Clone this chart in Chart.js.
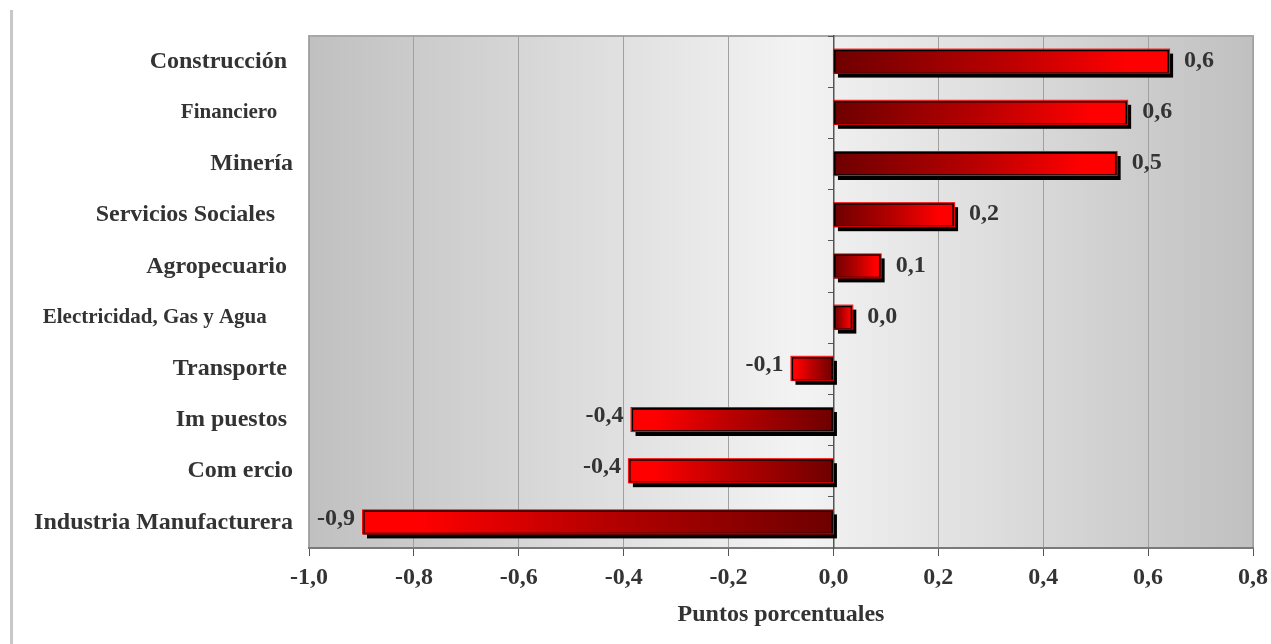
<!DOCTYPE html>
<html>
<head>
<meta charset="utf-8">
<script src="https://cdn.jsdelivr.net/npm/chart.js@4"></script>
<style>
  html, body { margin: 0; padding: 0; background: #ffffff; }
  #wrap { width: 1271px; height: 644px; position: relative; }
</style>
</head>
<body>
<div id="wrap"><canvas id="chart"></canvas></div>
<script>
// Sector labels (trailing spaces kept as in the original sheet)
const sectors = [
  "Construcción ",
  "Financiero   ",
  "Minería",
  "Servicios Sociales   ",
  "Agropecuario ",
  "Electricidad, Gas y Agua     ",
  "Transporte ",
  "Im puestos ",
  "Com ercio",
  "Industria Manufacturera",
];

// Contribution, in percentage points
const contributions = [0.64, 0.56, 0.54, 0.23, 0.09, 0.036, -0.08, -0.385, -0.39, -0.897];

const axisMin = -1.0;
const axisMax = 0.8;
const axisStep = 0.2;

const serif = "'Liberation Serif', 'Times New Roman', serif";
const textColor = "#333333";

function fmt(v) {
  if (Math.abs(v) < 1e-9) v = 0;
  return v.toFixed(1).replace(".", ",");
}

// Grey frame, plot background gradient and a line on the left edge
const backgroundPlugin = {
  id: "background",
  beforeDraw(chart) {
    const { ctx, chartArea: a } = chart;
    ctx.save();
    ctx.fillStyle = "#c8c8c8";
    ctx.fillRect(10, 10, 3, chart.height - 10);

    const g = ctx.createLinearGradient(a.left, 0, a.right, 0);
    g.addColorStop(0, "#c0c0c0");
    g.addColorStop(0.52, "#f3f3f3");
    g.addColorStop(1, "#c0c0c0");
    ctx.fillStyle = g;
    ctx.fillRect(a.left, a.top, a.right - a.left, a.bottom - a.top);

    ctx.strokeStyle = "#a8a8a8";
    ctx.lineWidth = 2;
    ctx.beginPath();
    ctx.moveTo(a.left, a.bottom);
    ctx.lineTo(a.left, a.top);
    ctx.lineTo(a.right, a.top);
    ctx.lineTo(a.right, a.bottom);
    ctx.stroke();
    ctx.restore();
  },
};

// Drop shadow under each bar, red outline and value labels
const barDecorPlugin = {
  id: "barDecor",
  beforeDatasetsDraw(chart) {
    const { ctx } = chart;
    const meta = chart.getDatasetMeta(0);
    ctx.save();
    ctx.fillStyle = "#000000";
    meta.data.forEach((bar) => {
      const left = Math.min(bar.x, bar.base);
      const w = Math.abs(bar.x - bar.base);
      ctx.fillRect(left + 4, bar.y - bar.height / 2 + 4, w, bar.height);
    });
    ctx.restore();
  },
  afterDatasetsDraw(chart) {
    const { ctx } = chart;
    const meta = chart.getDatasetMeta(0);
    ctx.save();
    ctx.strokeStyle = "#ff0000";
    ctx.lineWidth = 1;
    meta.data.forEach((bar) => {
      const left = Math.min(bar.x, bar.base);
      const w = Math.abs(bar.x - bar.base);
      ctx.strokeRect(left - 0.5, bar.y - bar.height / 2 - 0.5, w + 1, bar.height);
    });

    ctx.fillStyle = textColor;
    ctx.font = "bold 24px " + serif;
    ctx.textBaseline = "middle";
    meta.data.forEach((bar, i) => {
      const v = contributions[i];
      if (v >= 0) {
        ctx.textAlign = "left";
        ctx.fillText(fmt(v), bar.x + 15, bar.y - 1);
      } else {
        ctx.textAlign = "right";
        ctx.fillText(fmt(v), bar.x - 8, bar.y - 4);
      }
    });
    ctx.restore();
  },
};

function barGradient(context) {
  const chart = context.chart;
  const { chartArea, scales } = chart;
  if (!chartArea || !scales.x || context.raw === undefined) return "#b00000";
  const x0 = scales.x.getPixelForValue(0);
  const x1 = scales.x.getPixelForValue(context.raw);
  if (Math.abs(x1 - x0) < 1) return "#b00000";
  const g = chart.ctx.createLinearGradient(x0, 0, x1, 0);
  g.addColorStop(0, "#6e0000");
  g.addColorStop(0.5, "#b80000");
  g.addColorStop(0.88, "#ff0000");
  g.addColorStop(1, "#ff0000");
  return g;
}

new Chart(document.getElementById("chart"), {
  type: "bar",
  data: {
    labels: sectors,
    datasets: [
      {
        label: "Contribución",
        data: contributions,
        backgroundColor: barGradient,
        borderColor: "#000000",
        borderWidth: 2,
        borderSkipped: false,
        barThickness: 24,
      },
    ],
  },
  options: {
    indexAxis: "y",
    responsive: true,
    maintainAspectRatio: false,
    animation: false,
    layout: {
      padding: { left: 0, top: 36, right: 18, bottom: 0 },
    },
    plugins: {
      legend: { display: false },
      tooltip: { enabled: false },
    },
    scales: {
      x: {
        type: "linear",
        min: axisMin,
        max: axisMax,
        afterFit(scale) {
          scale.height = 96;
          scale.paddingRight = 18;
          scale.paddingLeft = 0;
        },
        ticks: {
          stepSize: axisStep,
          padding: 7,
          color: textColor,
          font: { family: serif, weight: "bold", size: 24 },
          callback: (v) => fmt(v),
        },
        grid: {
          color: "#a0a0a0",
          lineWidth: 1,
          tickLength: 8,
          tickColor: "#555555",
        },
        border: { color: "#7a7a7a", width: 2 },
        title: {
          display: true,
          text: "Puntos porcentuales",
          color: textColor,
          font: { family: serif, weight: "bold", size: 24 },
          padding: { top: 0, bottom: 15 },
        },
      },
      y: {
        type: "category",
        offset: true,
        afterFit(scale) {
          scale.width = 309;
        },
        ticks: {
          padding: 16,
          color: textColor,
          font: (c) => ({
            family: serif,
            weight: "bold",
            size: c.index === 1 || c.index === 5 ? 21 : 24,
          }),
        },
        grid: { display: false, drawTicks: false },
        border: { display: false },
      },
      yZero: {
        type: "category",
        axis: "y",
        position: { x: 0 },
        offset: true,
        ticks: { display: false },
        grid: {
          offset: true,
          drawOnChartArea: false,
          tickLength: 5,
          color: "#555555",
        },
        border: { color: "#555555", width: 1.5 },
      },
    },
  },
  plugins: [backgroundPlugin, barDecorPlugin],
});
</script>
</body>
</html>
